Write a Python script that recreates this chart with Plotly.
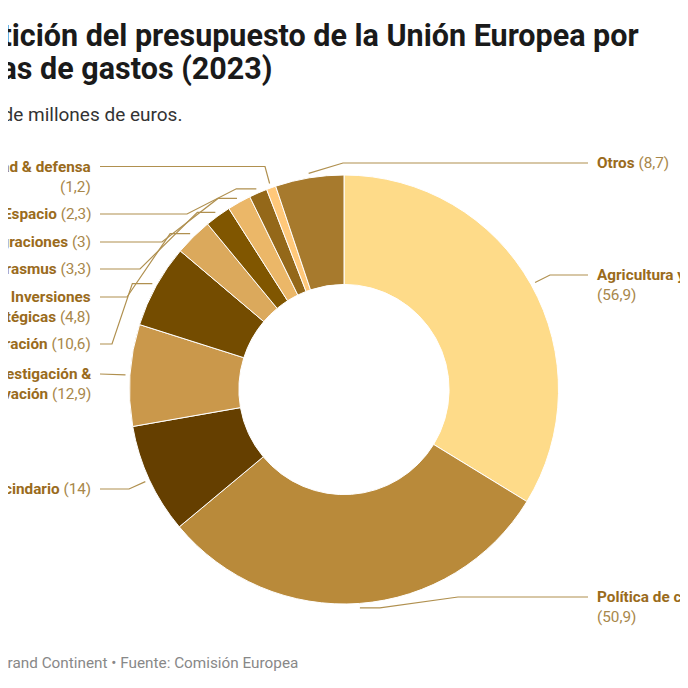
import math
import plotly.graph_objects as go

# ---------------- data ----------------
categories = [
    "Agricultura y medio ambiente", "Política de cohesión", "Vecindario",
    "Investigación & Innovación", "Administración", "Inversiones estratégicas",
    "Erasmus", "Migraciones", "Espacio", "Seguridad & defensa", "Otros",
]
values = [56.9, 50.9, 14, 12.9, 10.6, 4.8, 3.3, 3, 2.3, 1.2, 8.7]
value_labels = ["56,9", "50,9", "14", "12,9", "10,6", "4,8", "3,3", "3", "2,3", "1,2", "8,7"]

# ---------------- styles ----------------
colors = ["#FEDB89", "#B98A3A", "#653F00", "#CA984B", "#744C00", "#DBA95C",
          "#805600", "#EBB768", "#946819", "#FFC87A", "#A77A2D"]

# label layout (screen px): side, text (html), first-line y, elbow x, stub length
label_layout = {
    "Agricultura y medio ambiente": ("right", "<b>Agricultura y medio ambiente</b><br>({v})", 275, 550, 0),
    "Política de cohesión": ("right", "<b>Política de cohesión</b><br>({v})", 597, 458, 20),
    "Vecindario": ("left", "<b>Vecindario</b> ({v})", 489, 129, 0),
    "Investigación & Innovación": ("left", "<b>Investigación &amp;</b><br><b>Innovación</b> ({v})", 374, 100, 0),
    "Administración": ("left", "<b>Administración</b> ({v})", 344, 112, 20),
    "Inversiones estratégicas": ("left", "<b>Inversiones</b><br><b>estratégicas</b> ({v})", 297, 127, 20),
    "Erasmus": ("left", "<b>Erasmus</b> ({v})", 269, 140, 18),
    "Migraciones": ("left", "<b>Migraciones</b> ({v})", 242, 162, 19),
    "Espacio": ("left", "<b>Espacio</b> ({v})", 214, 187, 20),
    "Seguridad & defensa": ("left", "<b>Seguridad &amp; defensa</b><br>({v})", 166.5, 265, 0),
    "Otros": ("right", "<b>Otros</b> ({v})", 163, 343, 0),
}

W = H = 688
OFF = 8  # page body margin: figure starts at (8, 8) on screen
CX, CY, R = 344, 389.5, 214.5
HOLE = 0.49
ANCHOR_R = 219
LEFT_TEXT_X, LEFT_LINE_X = 93, 100
RIGHT_TEXT_X, RIGHT_LINE_X = 595, 588
LABEL_SIZE = 15.3
LINE_GAP = 20.5
NAME_COLOR = "#9A6B1C"
VALUE_COLOR = "#A8874A"
LINE_COLOR = "#B0904F"
FONT = "Roboto"


def px(sx):
    return (sx - OFF) / W


def py(sy):
    return 1 - (sy - OFF) / H


fig = go.Figure()

fig.add_trace(go.Pie(
    labels=categories, values=values, sort=False, direction="clockwise", rotation=0,
    hole=HOLE, textinfo="none", hoverinfo="label+value",
    marker=dict(colors=colors, line=dict(color="#FFFFFF", width=1)),
    domain=dict(x=[px(CX - R), px(CX + R)], y=[py(CY + R), py(CY - R)]),
    showlegend=False,
))

total = sum(values)
cum = 0.0
annotations = []
for cat, v, vl in zip(categories, values, value_labels):
    mid = (cum + v / 2) / total * 2 * math.pi
    cum += v
    ax_ = CX + ANCHOR_R * math.sin(mid)
    ay_ = CY - ANCHOR_R * math.cos(mid)
    side, txt, ly, ex, stub = label_layout[cat]
    if side == "left":
        xs = [LEFT_LINE_X, ex, ax_ - stub, ax_]
    else:
        xs = [RIGHT_LINE_X, ex, ax_ + stub, ax_]
    ys = [ly, ly, ay_, ay_]
    fig.add_trace(go.Scatter(x=xs, y=ys, mode="lines", hoverinfo="skip", showlegend=False,
                             line=dict(color=LINE_COLOR, width=1.2)))
    html = txt.replace("<b>", f"<span style='color:{NAME_COLOR}'><b>").replace("</b>", "</b></span>")
    html = html.replace("({v})", f"<span style='color:{VALUE_COLOR}'>({vl})</span>")
    nlines = html.count("<br>") + 1
    annotations.append(dict(
        xref="x", yref="y", x=LEFT_TEXT_X if side == "left" else RIGHT_TEXT_X,
        y=ly + (nlines - 1) * LINE_GAP / 2, text=html, showarrow=False,
        xanchor="right" if side == "left" else "left", yanchor="middle",
        align="right" if side == "left" else "left",
        font=dict(family=FONT, size=LABEL_SIZE, color=VALUE_COLOR),
    ))

title_lines = ["Repartición del presupuesto de la Unión Europea por", "rúbricas de gastos (2023)"]
for t, sy in zip(title_lines, [35.5, 69]):
    annotations.append(dict(
        xref="paper", yref="paper", x=px(-82), y=py(sy), xanchor="left", yanchor="middle",
        align="left", text=f"<b>{t}</b>", showarrow=False,
        font=dict(family=FONT, size=30.5, color="#1A1A1A"),
    ))
annotations.append(dict(
    xref="paper", yref="paper", x=px(-76), y=py(114), xanchor="left", yanchor="middle", align="left",
    text="En miles de millones de euros.", showarrow=False,
    font=dict(family=FONT, size=19, color="#333333"),
))
annotations.append(dict(
    xref="paper", yref="paper", x=px(-25), y=py(663), xanchor="left", yanchor="middle", align="left",
    text="Le Grand Continent • Fuente: Comisión Europea", showarrow=False,
    font=dict(family=FONT, size=15.3, color="#888888"),
))

fig.update_layout(
    width=W, height=H, autosize=False,
    margin=dict(l=0, r=0, t=0, b=0),
    paper_bgcolor="#FFFFFF", plot_bgcolor="rgba(0,0,0,0)",
    xaxis=dict(range=[OFF, OFF + W], visible=False, fixedrange=True),
    yaxis=dict(range=[OFF + H, OFF], visible=False, fixedrange=True),
    annotations=annotations,
    font=dict(family=FONT),
)

fig.write_html("out.html")
